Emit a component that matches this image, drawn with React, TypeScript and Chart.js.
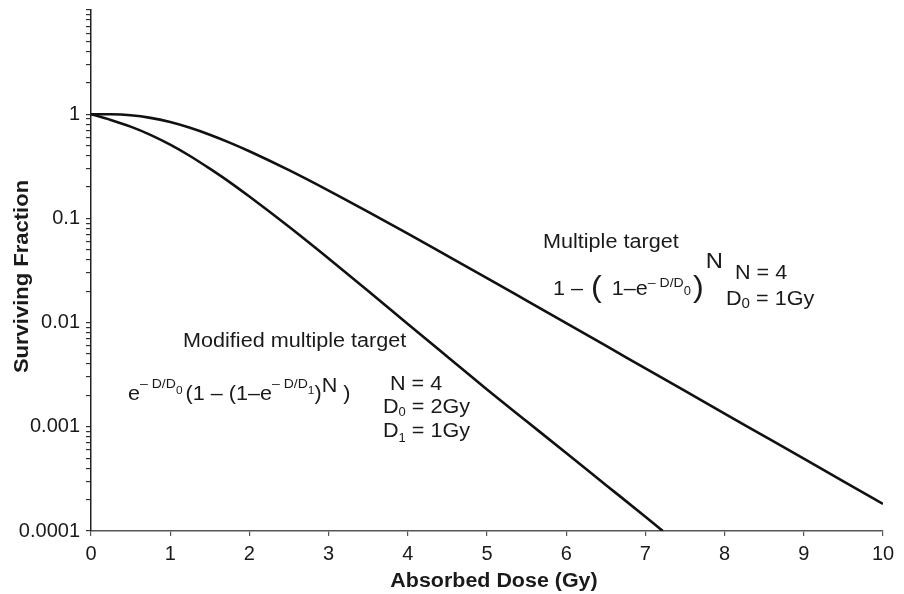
import React, { useEffect, useRef } from 'react';
import { Chart, registerables } from 'chart.js';

Chart.register(...registerables);

// ---- data ----
const doseMultiple = [0, 0.25, 0.5, 0.75, 1, 1.25, 1.5, 1.75, 2, 2.5, 3, 3.5, 4, 4.5, 5, 5.5, 6, 6.5, 7, 7.5, 8, 8.5, 9, 9.5, 10];
const survivalMultiple = [1, 0.9976, 0.976, 0.9225, 0.8403, 0.7408, 0.6358, 0.534, 0.441, 0.2901, 0.1848, 0.1154, 0.0713, 0.0437, 0.0267, 0.01625, 0.00988, 0.006, 0.00364, 0.00221, 0.00134, 0.000814, 0.000494, 0.000299, 0.000182];

const doseModified = [0, 0.25, 0.5, 0.75, 1, 1.25, 1.5, 1.75, 2, 2.5, 3, 3.5, 4, 4.5, 5, 5.5, 6, 6.5, 7, 7.22];
const survivalModified = [1, 0.88, 0.76, 0.634, 0.51, 0.397, 0.3, 0.223, 0.162, 0.083, 0.0412, 0.0201, 0.0097, 0.0047, 0.00228, 0.00113, 0.00056, 0.000277, 0.000137, 0.0001];

const xTickValues = [0, 1, 2, 3, 4, 5, 6, 7, 8, 9, 10];
const yDecades = [0.0001, 0.001, 0.01, 0.1, 1];
const yMantissas = [1, 2, 3, 4, 5, 6, 7, 8, 9];
const yTickLabels = ['0.0001', '0.001', '0.01', '0.1', '1'];

const xTitle = 'Absorbed Dose (Gy)';
const yTitle = 'Surviving Fraction';

// ---- annotation texts (anchored in data coordinates) ----
type Seg = { t: string; size?: number; dy?: number; dx?: number };
type Note = { x: number; y: number; segs: Seg[] };

const notes: Note[] = [
  { x: 5.707, y: 0.0515, segs: [{ t: 'Multiple target' }] },
  {
    x: 5.833, y: 0.01858, segs: [
      { t: '1 –' },
      { t: '(', size: 30, dy: 2, dx: 8 },
      { t: '1–e', dx: 10 },
      { t: '– D/D', size: 13, dy: -8 },
      { t: '0', size: 12, dy: 0 },
      { t: ')', size: 30, dy: 2, dx: 2 },
      { t: 'N', size: 22, dy: -27, dx: 2 },
    ]
  },
  { x: 8.131, y: 0.02649, segs: [{ t: 'N = 4' }] },
  { x: 8.018, y: 0.0149, segs: [{ t: 'D' }, { t: '0', size: 14, dy: 3 }, { t: ' = 1Gy' }] },
  { x: 1.162, y: 0.005877, segs: [{ t: 'Modified multiple target' }] },
  {
    x: 0.467, y: 0.001818, segs: [
      { t: 'e' },
      { t: '– D/D', size: 13, dy: -12 },
      { t: '0', size: 11, dy: -6 },
      { t: '(1 – (1–e', dx: 3 },
      { t: '– D/D', size: 13, dy: -12 },
      { t: '1', size: 11, dy: -6 },
      { t: ')' },
      { t: 'N', dy: -8 },
      { t: ' )' },
    ]
  },
  { x: 3.775, y: 0.002269, segs: [{ t: 'N = 4' }] },
  { x: 3.687, y: 0.001363, segs: [{ t: 'D' }, { t: '0', size: 12, dy: 3 }, { t: ' = 2Gy' }] },
  { x: 3.687, y: 0.000801, segs: [{ t: 'D' }, { t: '1', size: 12, dy: 5 }, { t: ' = 1Gy' }] },
];

const FONT = '"Liberation Sans", Arial, Helvetica, sans-serif';
const TEXT_COLOR = '#1a1a1a';

const notesPlugin = {
  id: 'notes',
  afterDatasetsDraw(chart: any) {
    const ctx = chart.ctx as CanvasRenderingContext2D;
    const xs = chart.scales.x;
    const ys = chart.scales.y;
    const area = chart.chartArea;
    const stretch = 1.08;
    ctx.save();
    ctx.fillStyle = TEXT_COLOR;
    ctx.textBaseline = 'alphabetic';
    ctx.textAlign = 'left';
    for (const n of notes) {
      const px = xs.getPixelForValue(n.x);
      const py = ys.getPixelForValue(n.y);
      ctx.save();
      ctx.translate(px, py);
      ctx.scale(stretch, 1);
      let cx = 0;
      for (const s of n.segs) {
        ctx.font = `${s.size ?? 20}px ${FONT}`;
        cx += (s.dx ?? 0) / stretch;
        ctx.fillText(s.t, cx, s.dy ?? 0);
        cx += ctx.measureText(s.t).width;
      }
      ctx.restore();
    }

    // axis titles (slightly widened type, as in the reference)
    ctx.textAlign = 'center';
    ctx.textBaseline = 'middle';
    ctx.font = `bold 19.5px ${FONT}`;
    ctx.save();
    ctx.translate((area.left + area.right) / 2 + 7, chart.height - 12);
    ctx.scale(1.1, 1);
    ctx.fillText(xTitle, 0, 0);
    ctx.restore();

    ctx.font = `bold 20px ${FONT}`;
    ctx.save();
    ctx.translate(22, (area.top + area.bottom) / 2 + 6);
    ctx.rotate(-Math.PI / 2);
    ctx.scale(1.1, 1);
    ctx.fillText(yTitle, 0, 0);
    ctx.restore();
    ctx.restore();
  },
};

export default function App() {
  const ref = useRef<HTMLCanvasElement | null>(null);

  useEffect(() => {
    if (!ref.current) return;
    const chart = new Chart(ref.current, {
      type: 'line',
      data: {
        datasets: [
          {
            label: 'Multiple target',
            data: doseMultiple.map((d, i) => ({ x: d, y: survivalMultiple[i] })),
            borderColor: '#111',
            borderWidth: 2.6,
            pointRadius: 0,
            cubicInterpolationMode: 'monotone',
            fill: false,
          },
          {
            label: 'Modified multiple target',
            data: doseModified.map((d, i) => ({ x: d, y: survivalModified[i] })),
            borderColor: '#111',
            borderWidth: 2.6,
            pointRadius: 0,
            cubicInterpolationMode: 'monotone',
            fill: false,
          },
        ],
      },
      options: {
        animation: false,
        responsive: true,
        maintainAspectRatio: false,
        layout: { padding: { top: 10, right: 21, left: 0, bottom: 0 } },
        plugins: { legend: { display: false }, tooltip: { enabled: false } },
        scales: {
          x: {
            type: 'linear',
            min: 0,
            max: 10,
            afterBuildTicks: (scale: any) => {
              scale.ticks = xTickValues.map((v) => ({ value: v }));
            },
            afterFit: (scale: any) => {
              scale.height = 63;
              scale.paddingLeft = 0;
              scale.paddingRight = 0;
            },
            border: { display: true, color: '#555', width: 1.5 },
            grid: { drawOnChartArea: false, drawTicks: true, tickLength: 5, color: '#555', lineWidth: 1.2 },
            ticks: {
              autoSkip: false,
              maxRotation: 0,
              padding: 6,
              color: TEXT_COLOR,
              font: { family: FONT, size: 20 },
              callback: (v: any) => String(v),
            },
            title: { display: false },
          },
          y: {
            type: 'logarithmic',
            min: 0.0001,
            max: 10,
            afterBuildTicks: (scale: any) => {
              const t: any[] = [];
              for (const d of yDecades) for (const m of yMantissas) t.push({ value: +(d * m).toPrecision(3) });
              t.push({ value: 10 });
              scale.ticks = t;
            },
            afterFit: (scale: any) => {
              scale.width = 91;
              scale.paddingTop = 0;
              scale.paddingBottom = 0;
            },
            border: { display: true, color: '#222', width: 1.5 },
            grid: { drawOnChartArea: false, drawTicks: true, tickLength: 5, color: '#333', lineWidth: 1.2 },
            ticks: {
              autoSkip: false,
              padding: 6,
              color: TEXT_COLOR,
              font: { family: FONT, size: 20 },
              callback: (v: any) => {
                const idx = yDecades.findIndex((d) => Math.abs(d - Number(v)) / d < 1e-6);
                return idx >= 0 ? yTickLabels[idx] : '';
              },
            },
            title: { display: false },
          },
        },
      },
      plugins: [notesPlugin],
    } as any);
    return () => chart.destroy();
  }, []);

  return (
    <div style={{ position: 'fixed', left: 0, top: 0, width: 904, height: 594, background: '#fff' }}>
      <canvas ref={ref} />
    </div>
  );
}
